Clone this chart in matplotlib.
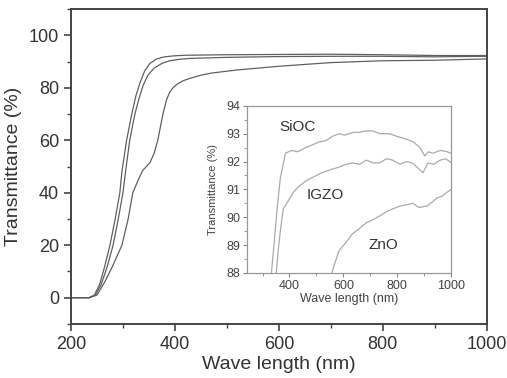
import matplotlib.pyplot as plt
from matplotlib.ticker import MultipleLocator

plt.rcParams['font.family'] = ['Liberation Sans', 'DejaVu Sans']

# main spectra (wavelength nm, transmittance %)
wl_sioc = [200, 235, 245, 255, 265, 275, 285, 294, 298, 307, 317, 325, 333, 342, 352, 365,
           380, 400, 420, 500, 600, 700, 800, 900, 1000]
t_sioc = [0, 0, 1, 5, 12, 20, 30, 40, 48, 60, 70, 77, 82, 86.5, 89.3, 91.0,
          91.8, 92.2, 92.4, 92.6, 92.7, 92.8, 92.6, 92.3, 92.3]

wl_igzo = [200, 235, 247, 258, 270, 281, 291, 300, 305, 313, 323, 331, 339, 348, 360, 375,
           390, 410, 430, 500, 600, 700, 800, 900, 1000]
t_igzo = [0, 0, 1, 5, 12, 20, 30, 40, 48, 60, 70, 76, 81, 84.8, 87.5, 89.3,
          90.3, 90.9, 91.2, 91.6, 91.9, 92.0, 92.0, 91.8, 92.0]

wl_zno = [200, 235, 250, 265, 280, 298, 310, 319, 329, 338, 346, 352, 360, 367, 377, 384,
          390, 397, 405, 416, 429, 450, 470, 520, 600, 700, 800, 900, 1000]
t_zno = [0, 0, 1, 6, 12, 20, 30, 40, 44.7, 48.5, 50.2, 51.5, 55, 60, 70, 75.5,
         78.3, 80.2, 81.5, 82.7, 83.6, 84.8, 85.6, 86.8, 88.2, 89.6, 90.3, 90.5, 91.0]

# inset close-up
in_wl_sioc = [333, 345, 355, 366, 385, 408, 430, 460, 485, 509, 535, 558, 584, 605, 621, 640,
              659, 685, 708, 735, 771, 800, 835, 860, 884, 902, 915, 932, 960, 985, 1000]
in_t_sioc = [88.0, 89.3, 90.4, 91.4, 92.3, 92.4, 92.35, 92.5, 92.6, 92.7, 92.75, 92.9, 93.0, 92.95, 93.0, 93.05,
             93.05, 93.1, 93.1, 93.0, 93.0, 92.9, 92.8, 92.7, 92.5, 92.2, 92.35, 92.3, 92.4, 92.35, 92.3]

in_wl_igzo = [351, 358, 366, 377, 396, 415, 434, 460, 490, 520, 550, 584, 610, 633, 660, 685,
              710, 734, 760, 783, 810, 835, 855, 873, 895, 914, 935, 959, 980, 1000]
in_t_igzo = [88.0, 88.8, 89.5, 90.3, 90.6, 90.9, 91.1, 91.3, 91.45, 91.6, 91.7, 91.8, 91.9, 91.95, 91.9, 92.05,
             91.95, 91.95, 92.1, 92.05, 91.9, 92.0, 91.95, 91.8, 91.6, 91.95, 91.9, 92.05, 92.1, 91.95]

in_wl_zno = [557, 570, 584, 610, 633, 660, 685, 708, 735, 760, 783, 810, 835, 858, 880, 910,
             930, 948, 965, 985, 1000]
in_t_zno = [88.0, 88.4, 88.8, 89.1, 89.4, 89.6, 89.8, 89.9, 90.05, 90.2, 90.3, 90.4, 90.45, 90.5, 90.35, 90.4,
            90.55, 90.7, 90.75, 90.9, 91.0]

fig = plt.figure(figsize=(5.07, 3.78), dpi=100)
ax = fig.add_axes([0.140, 0.143, 0.820, 0.833])
for wl, t in [(wl_sioc, t_sioc), (wl_igzo, t_igzo), (wl_zno, t_zno)]:
    ax.plot(wl, t, color='#606060', lw=0.9)
ax.set_xlim(200, 1000)
ax.set_ylim(-10, 110)
ax.set_yticks([0, 20, 40, 60, 80, 100])
ax.set_xticks([200, 400, 600, 800, 1000])
ax.xaxis.set_minor_locator(MultipleLocator(100))
ax.yaxis.set_minor_locator(MultipleLocator(10))
ax.tick_params(which='major', direction='out', length=5, width=1.2, color='#444444', labelsize=13, labelcolor='#333333')
ax.tick_params(which='minor', direction='out', length=3, width=1.0, color='#444444')
for s in ax.spines.values():
    s.set_color('#444444')
    s.set_linewidth(1.4)
ax.set_xlabel('Wave length (nm)', fontsize=14, color='#333333', labelpad=2)
ax.set_ylabel('Transmittance (%)', fontsize=14, color='#333333', labelpad=5)

ins = fig.add_axes([0.487, 0.278, 0.403, 0.442])
for wl, t in [(in_wl_sioc, in_t_sioc), (in_wl_igzo, in_t_igzo), (in_wl_zno, in_t_zno)]:
    ins.plot(wl, t, color='#aaaaaa', lw=0.9)
ins.set_xlim(242, 1000)
ins.set_ylim(88, 94)
ins.set_xticks([400, 600, 800, 1000])
ins.xaxis.set_minor_locator(MultipleLocator(100))
ins.yaxis.set_minor_locator(MultipleLocator(0.5))
ins.tick_params(which='major', direction='out', length=3, width=0.8, color='#888888', labelsize=9, labelcolor='#444444', pad=2)
ins.tick_params(which='minor', direction='out', length=2, width=0.6, color='#888888')
for s in ins.spines.values():
    s.set_color('#999999')
    s.set_linewidth(0.9)
ins.set_xlabel('Wave length (nm)', fontsize=9, color='#444444', labelpad=1)
ins.set_ylabel('Transmittance (%)', fontsize=8, color='#444444', labelpad=6)
ins.text(431, 93.25, 'SiOC', fontsize=11, color='#333333', ha='center', va='center')
ins.text(532, 90.8, 'IGZO', fontsize=11, color='#333333', ha='center', va='center')
ins.text(747, 89.0, 'ZnO', fontsize=11, color='#333333', ha='center', va='center')

fig.savefig('out.png', dpi=100)
